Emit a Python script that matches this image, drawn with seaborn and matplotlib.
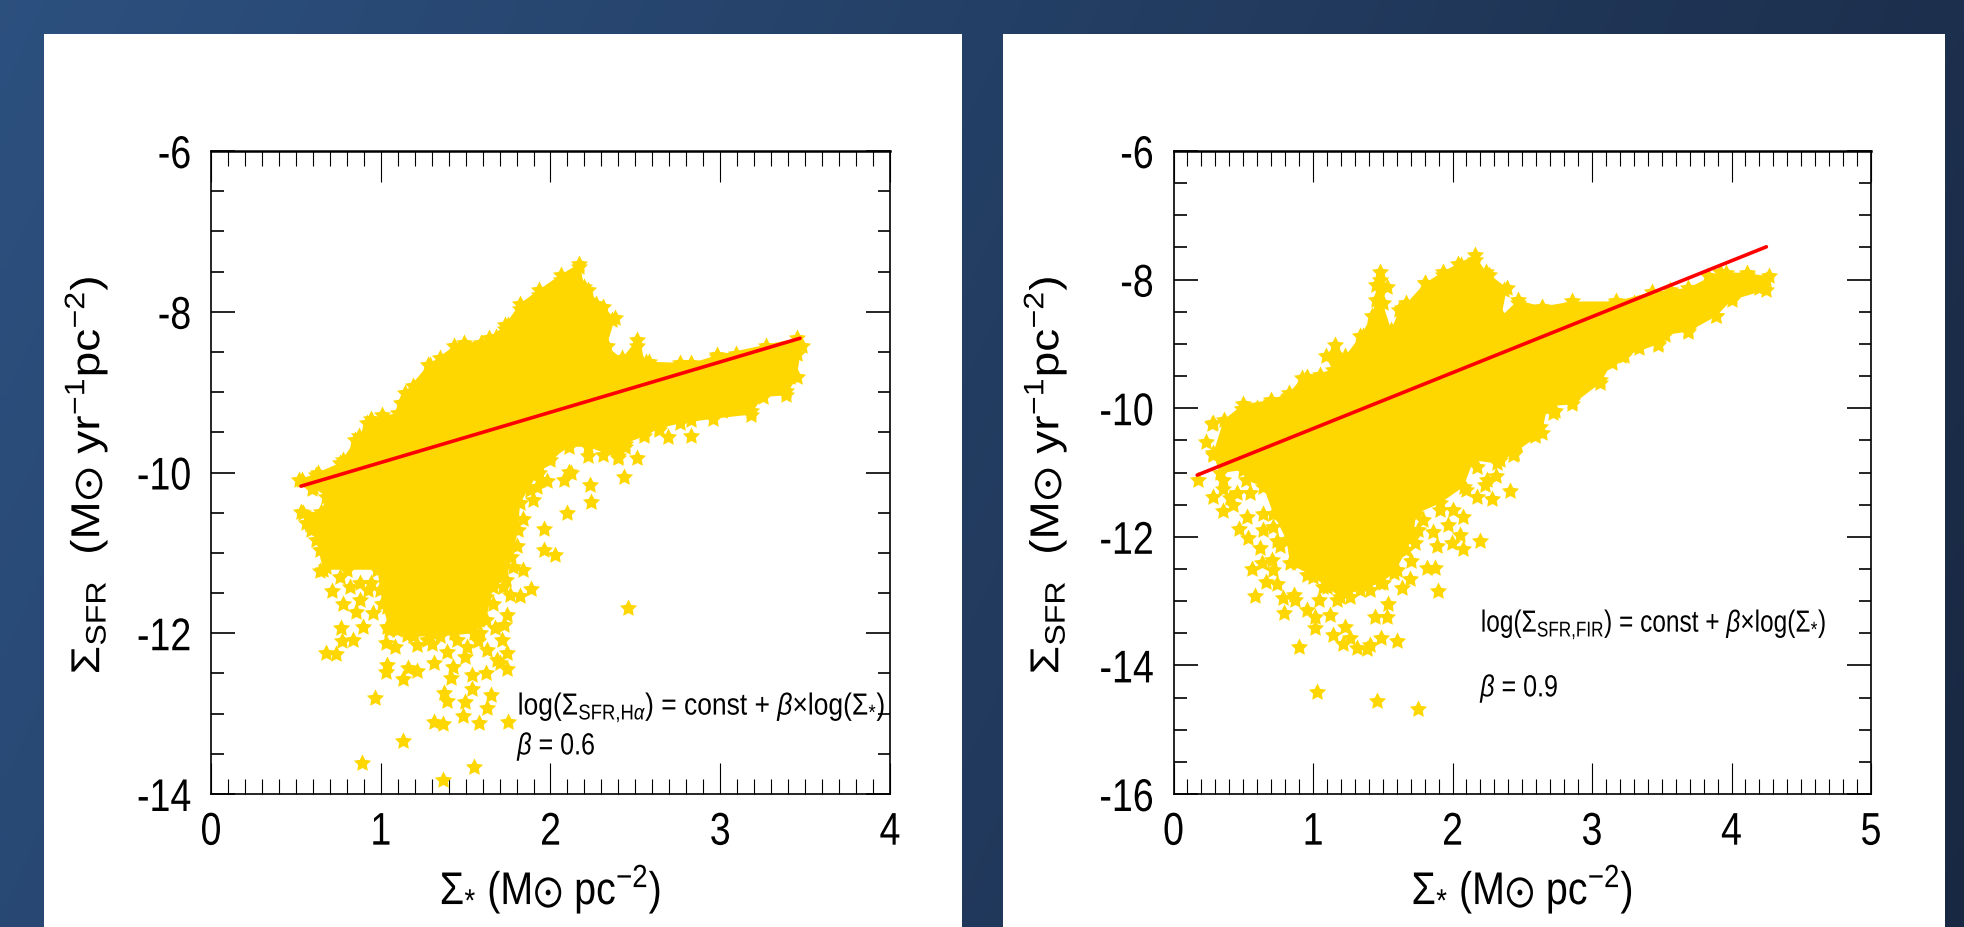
import numpy as np
import matplotlib
matplotlib.use("Agg")
import matplotlib.pyplot as plt
from matplotlib.markers import MarkerStyle
from matplotlib.patches import Rectangle
from matplotlib.path import Path
from matplotlib.patheffects import AbstractPathEffect
from matplotlib.ticker import MultipleLocator
from matplotlib.transforms import Affine2D
import seaborn as sns

# =========================
# 1. Values
# =========================
# outline of the dense star cloud, left panel (H-alpha)
ha_outline_x = [0.52, 0.63, 0.76, 0.85, 0.94, 1.10, 1.14, 1.28, 1.43, 1.64, 1.73, 1.82, 1.93,
                2.06, 2.17, 2.20, 2.31, 2.38, 2.33, 2.42, 2.51, 2.56, 2.83, 2.98, 3.45, 3.48,
                3.45, 3.39, 3.25, 3.18, 2.96, 2.76, 2.64, 2.55, 2.44, 2.40, 2.22, 2.11, 2.00,
                1.93, 1.82, 1.81, 1.77, 1.74, 1.66, 1.62, 1.55, 1.35, 1.19, 1.05, 1.01, 0.98,
                0.80, 0.66, 0.62, 0.56, 0.53, 0.65, 0.68, 0.60]
ha_outline_y = [-10.09, -10.00, -9.88, -9.60, -9.33, -9.26, -9.01, -8.66, -8.43, -8.33, -8.17,
                -7.90, -7.73, -7.54, -7.40, -7.69, -7.94, -8.08, -8.43, -8.58, -8.35, -8.62,
                -8.64, -8.54, -8.33, -8.43, -8.81, -9.04, -9.06, -9.28, -9.33, -9.39, -9.45,
                -9.55, -9.64, -9.82, -9.68, -9.68, -9.84, -10.00, -10.38, -10.72, -11.05,
                -11.34, -11.42, -11.84, -12.00, -12.04, -12.04, -11.96, -11.63, -11.21, -11.21,
                -11.21, -10.84, -10.63, -10.49, -10.49, -10.30, -10.18]
# single stars around the cloud, left panel
ha_stars_x = [0.676, 0.736, 0.770, 0.835, 0.766, 0.894, 0.956, 0.854, 0.776, 0.711, 0.642, 0.878,
              0.927, 0.819, 1.035, 1.031, 1.084, 1.212, 1.300, 1.388, 1.496, 1.575, 1.628, 1.712,
              1.746, 1.683, 1.742, 1.700, 1.620, 1.536, 1.414, 1.424, 1.316, 1.212, 1.159, 1.133,
              1.039, 1.031, 0.966, 1.540, 1.648, 1.628, 1.498, 1.483, 1.579, 1.750, 1.316, 1.365,
              1.373, 1.388, 1.133, 0.890, 1.549, 1.369, 1.742, 1.726, 1.673, 1.761, 1.820, 1.883,
              1.836, 2.026, 1.964, 1.964, 2.100, 2.237, 2.233, 2.119, 2.433, 2.459, 1.895, 1.840,
              2.080, 1.980, 1.920, 0.544, 0.583, 0.593, 0.534, 0.620, 1.094, 1.585, 1.663, 1.722,
              0.996, 1.035, 1.084, 1.153, 1.270, 1.447, 1.506, 2.83, 2.69, 2.51, 2.40, 2.31, 2.11]
ha_stars_y = [-12.24, -12.26, -12.10, -12.08, -11.93, -11.92, -11.75, -11.73, -11.63, -11.48,
              -11.23, -11.59, -11.46, -11.42, -11.92, -12.12, -12.17, -12.15, -12.13, -12.23,
              -12.29, -12.10, -12.21, -12.08, -12.25, -12.33, -12.44, -12.37, -12.49, -12.52,
              -12.56, -12.42, -12.37, -12.47, -12.43, -12.57, -12.40, -12.48, -12.80, -12.69,
              -12.77, -12.93, -12.86, -13.03, -13.12, -13.11, -13.11, -13.13, -12.74, -12.84,
              -13.34, -13.62, -13.66, -13.83, -11.77, -11.90, -11.94, -11.52, -11.54, -11.45,
              -11.21, -11.03, -10.96, -10.70, -10.51, -10.37, -10.16, -10.01, -10.05, -11.68,
              -10.34, -10.58, -10.09, -10.11, -10.18, -10.51, -10.65, -10.20, -10.09, -10.03,
              -11.96, -12.00, -11.63, -11.42, -11.46, -11.67, -11.84, -12.02, -12.08, -12.08,
              -12.17, -9.55, -9.56, -9.82, -9.80, -9.78, -9.99]
# stars that roughen the edge of the cloud, left panel
ha_edge_x = [2.166, 2.13, 2.06, 1.99, 1.93, 1.82, 1.75, 1.49, 1.59, 1.29, 2.51, 2.36, 2.27, 2.22,
             3.41, 3.39, 3.18, 3.01, 2.83, 3.23, 3.45, 2.98, 2.58, 2.76, 3.09, 3.27, 0.78, 0.87,
             0.92, 1.01, 1.12, 1.19, 1.35, 1.68, 1.73, 2.64, 2.55, 2.44, 2.22, 2.00, 1.93, 2.36,
             1.80, 1.78, 1.66, 1.62, 1.58, 1.43, 1.31, 1.19, 1.07, 0.94, 0.88, 0.76, 0.68, 0.64,
             0.59, 1.88, 1.94]
ha_edge_y = [-7.44, -7.57, -7.61, -7.75, -7.79, -7.96, -8.17, -8.39, -8.39, -8.66, -8.43, -8.10,
             -7.90, -7.73, -8.81, -8.99, -9.24, -9.24, -9.35, -9.01, -8.52, -8.56, -8.62, -8.64,
             -8.52, -8.43, -9.84, -9.55, -9.39, -9.28, -9.14, -8.93, -8.58, -8.31, -8.21, -9.47,
             -9.51, -9.68, -9.80, -9.80, -9.93, -9.70, -10.92, -11.17, -11.30, -11.55, -11.84,
             -12.00, -12.00, -12.00, -11.92, -11.38, -11.38, -11.30, -11.17, -10.96, -10.72,
             -10.22, -10.09]
ha_fit_x = [0.53, 3.47]
ha_fit_y = [-10.17, -8.33]

# outline of the dense star cloud, right panel (FIR)
fir_outline_x = [0.36, 0.50, 0.70, 0.83, 0.92, 1.14, 1.09, 1.16, 1.23, 1.34, 1.42, 1.45, 1.45,
                 1.48, 1.53, 1.50, 1.56, 1.62, 1.67, 1.80, 1.93, 2.04, 2.16, 2.24, 2.39, 2.35,
                 2.47, 2.64, 2.86, 3.17, 3.43, 3.69, 3.92, 4.11, 4.27, 4.25, 4.00, 3.89, 3.69,
                 3.52, 3.47, 3.23, 3.14, 3.06, 2.86, 2.68, 2.64, 2.44, 2.32, 2.15, 2.08, 1.91,
                 1.74, 1.72, 1.67, 1.58, 1.48, 1.34, 1.19, 1.10, 1.00, 0.835, 0.81, 0.716, 0.644,
                 0.52, 0.50, 0.33, 0.285]
fir_outline_y = [-10.18, -9.94, -9.87, -9.76, -9.53, -9.40, -9.19, -9.01, -9.19, -8.88, -8.57,
                 -8.32, -8.08, -7.88, -8.11, -8.37, -8.78, -8.47, -8.37, -8.06, -7.88, -7.75,
                 -7.62, -7.88, -8.13, -8.57, -8.32, -8.42, -8.34, -8.34, -8.19, -8.13, -7.88,
                 -7.90, -7.95, -8.16, -8.32, -8.57, -8.81, -8.86, -9.01, -9.19, -9.30, -9.61,
                 -9.94, -9.97, -10.39, -10.70, -10.86, -10.81, -11.22, -11.48, -11.64, -11.95,
                 -12.21, -12.57, -12.72, -12.83, -12.93, -12.78, -12.62, -12.41, -12.05, -11.64,
                 -11.22, -11.12, -10.96, -11.01, -10.70]
# single stars around the cloud, right panel
fir_stars_x = [1.03, 1.46, 1.75, 0.178, 0.286, 0.357, 0.429, 0.405, 0.357, 0.472, 0.536, 0.620,
               0.740, 0.644, 0.524, 0.560, 0.632, 0.704, 0.711, 0.663, 0.740, 0.584, 0.783, 0.864,
               0.871, 0.792, 0.955, 1.014, 1.014, 1.045, 1.122, 1.141, 0.902, 1.230, 1.217, 1.265,
               1.313, 1.385, 1.409, 1.487, 1.604, 1.444, 1.528, 1.540, 1.636, 1.695, 1.600, 1.703,
               1.815, 1.875, 1.898, 1.886, 1.863, 1.994, 2.078, 2.197, 2.054, 1.970, 2.078, 2.173,
               2.286, 2.412, 2.233, 2.312, 2.173, 2.436, 2.592, 2.735, 2.687, 1.755, 1.731, 0.274,
               0.233, 0.281, 0.493, 0.600, 0.697, 0.823]
fir_stars_y = [-14.42, -14.55, -14.68, -11.11, -11.38, -11.60, -11.51, -11.40, -11.25, -11.88,
               -12.02, -12.18, -12.06, -11.89, -11.69, -12.50, -12.41, -12.36, -12.52, -12.70,
               -12.73, -12.92, -12.95, -12.90, -12.99, -13.19, -13.14, -13.24, -13.42, -12.99,
               -13.22, -13.53, -13.72, -13.40, -13.66, -13.58, -13.73, -13.75, -13.68, -13.58,
               -13.62, -13.24, -13.24, -13.04, -12.80, -12.65, -12.52, -12.38, -12.48, -12.48,
               -12.84, -12.14, -11.92, -12.10, -12.19, -12.06, -11.97, -11.82, -11.69, -11.38,
               -11.41, -11.29, -11.19, -11.05, -10.91, -10.73, -10.42, -10.05, -10.00, -11.89,
               -12.10, -10.24, -10.52, -10.73, -10.02, -9.99, -9.91, -9.82]
# stars that roughen the edge of the cloud, right panel
fir_edge_x = [0.28, 0.50, 0.70, 0.83, 0.94, 1.16, 1.36, 1.47, 1.48, 1.64, 1.80, 1.93, 2.06, 2.16,
              2.26, 2.37, 2.47, 2.86, 3.17, 3.30, 3.56, 3.83, 3.96, 4.11, 4.25, 4.20, 4.00, 3.89,
              3.69, 3.47, 3.34, 3.21, 3.06, 2.86, 2.72, 2.59, 2.44, 2.64, 0.96, 1.05, 0.357, 0.453,
              0.548, 0.644, 0.716, 0.763, 0.883, 0.955, 1.074, 1.17, 1.265, 1.409, 1.504, 1.576,
              1.624, 1.719, 1.791, 1.91, 2.006, 2.10, 2.245, 2.34, 2.46, 2.63]
fir_edge_y = [-10.23, -10.02, -9.92, -9.81, -9.56, -9.22, -8.88, -8.37, -8.00, -8.44, -8.06, -7.93,
              -7.77, -7.70, -7.93, -8.16, -8.37, -8.39, -8.37, -8.37, -8.16, -7.95, -7.90, -7.93,
              -8.00, -8.13, -8.26, -8.57, -8.78, -8.99, -9.06, -9.19, -9.56, -9.89, -10.07, -10.43,
              -10.72, -8.44, -9.51, -9.48, -11.12, -11.32, -11.32, -11.64, -11.84, -12.15, -12.41,
              -12.59, -12.78, -12.98, -12.93, -12.83, -12.72, -12.36, -12.15, -12.00, -11.74,
              -11.58, -11.58, -11.27, -11.12, -10.81, -10.57, -10.29]
fir_fit_x = [0.17, 4.25]
fir_fit_y = [-11.04, -7.49]

ha_xticks = [0, 1, 2, 3, 4]
ha_yticks = [-14, -12, -10, -8, -6]
ha_ylabels = ["-14", "-12", "-10", "-8", "-6"]
fir_xticks = [0, 1, 2, 3, 4, 5]
fir_yticks = [-16, -14, -12, -10, -8, -6]
fir_ylabels = ["-16", "-14", "-12", "-10", "-8", "-6"]

# =========================
# 2. Figure and background
# =========================
W, H = 1965, 927
GOLD = "#FFD700"
STAR = MarkerStyle(Path.unit_regular_star(5, innerCircle=0.5))

sns.set_theme(style="white")
plt.rcParams["font.family"] = ["Liberation Sans", "DejaVu Sans"]
plt.rcParams["mathtext.fontset"] = "custom"
plt.rcParams["mathtext.rm"] = "Liberation Sans"
plt.rcParams["mathtext.it"] = "Liberation Sans:italic"
plt.rcParams["mathtext.bf"] = "Liberation Sans:bold"
plt.rcParams["mathtext.fallback"] = "stix"


class Squeeze(AbstractPathEffect):
    # the reference is a stretched slide, so its glyphs are narrower than the font's
    def __init__(self, sx=1.0, sy=1.0, anchor="center"):
        super().__init__()
        self.sx, self.sy, self.anchor = sx, sy, anchor

    def draw_path(self, renderer, gc, tpath, affine, rgbFace=None):
        box = tpath.get_extents()
        ax_ = {"left": box.x0, "center": (box.x0 + box.x1) / 2, "right": box.x1}[self.anchor]
        ay_ = (box.y0 + box.y1) / 2
        squeeze = Affine2D().translate(-ax_, -ay_).scale(self.sx, self.sy).translate(ax_, ay_)
        renderer.draw_path(gc, tpath, squeeze + affine, rgbFace)


fig = plt.figure(figsize=(W / 100, H / 100), dpi=100)


def px_axes(left, top, right, bottom):
    return fig.add_axes([left / W, 1 - bottom / H, (right - left) / W, (bottom - top) / H])


bg = fig.add_axes([0, 0, 1, 1])
gx, gy = np.meshgrid(np.linspace(0, 1, 200), np.linspace(0, 1, 100))
t = (0.82 * gx + 0.18 * gy)[..., None]
bg.imshow(np.array([0.173, 0.314, 0.498]) * (1 - t) + np.array([0.098, 0.157, 0.259]) * t,
          aspect="auto", interpolation="bilinear")
bg.axis("off")

# white panels behind the two plots
for x0, x1 in [(44, 962), (1003, 1945)]:
    bg.add_patch(Rectangle((x0 / W, 0), (x1 - x0) / W, 1 - 34 / H, transform=fig.transFigure,
                           facecolor="white", edgecolor="none", zorder=2))


# =========================
# 3. The two panels
# =========================
def draw_panel(ax, out_x, out_y, stars_x, stars_y, fit_x, fit_y, xticks, yticks, ylabels,
               tx, ty1, ty2, eq, beta, eq_sx):
    ax.patch.set_alpha(0)
    ax.fill(out_x, out_y, color=GOLD, linewidth=0, zorder=2)
    sns.scatterplot(x=out_x + stars_x, y=out_y + stars_y, ax=ax, marker=STAR, s=170,
                    color=GOLD, linewidth=0, zorder=2)
    sns.lineplot(x=fit_x, y=fit_y, ax=ax, color="red", linewidth=2.6, zorder=3)

    ax.set_xlim(xticks[0], xticks[-1])
    ax.set_ylim(yticks[0], yticks[-1])
    ax.set_xticks(xticks)
    ax.set_yticks(yticks)
    ax.set_yticklabels(ylabels)
    ax.xaxis.set_minor_locator(MultipleLocator(0.1))
    ax.yaxis.set_minor_locator(MultipleLocator(0.5))
    ax.tick_params(axis="x", which="major", direction="in", top=True, bottom=True, length=22,
                   width=0.8, labelsize=33, pad=12, color="black", labelcolor="black")
    ax.tick_params(axis="x", which="minor", direction="in", top=True, bottom=True, length=11,
                   width=0.8, color="black")
    ax.tick_params(axis="y", which="major", direction="in", left=True, right=True, length=17,
                   width=1.2, labelsize=33, pad=14, color="black", labelcolor="black")
    ax.tick_params(axis="y", which="minor", direction="in", left=True, right=True, length=9,
                   width=1.2, color="black")
    for lab in ax.get_xticklabels():
        lab.set_path_effects([Squeeze(0.82)])
    for lab in ax.get_yticklabels():
        lab.set_path_effects([Squeeze(0.82, anchor="right")])
    for side, spine in ax.spines.items():
        spine.set_color("black")
        spine.set_linewidth(1.8 if side == "top" else 1.2)

    ax.set_xlabel(r"$\Sigma_{*}$ (M$\odot$ pc$^{-2}$)", fontsize=33, color="black",
                  path_effects=[Squeeze(0.86)])
    ax.xaxis.set_label_coords(0.5, -0.148, transform=ax.transAxes)
    ax.xaxis.label.set_verticalalignment("center")
    ax.set_ylabel(r"$\Sigma_{\mathrm{SFR}}$  (M$\odot$ yr$^{-1}$pc$^{-2}$)", fontsize=33,
                  color="black", path_effects=[Squeeze(1.0, 0.88)])
    ax.yaxis.set_label_coords(-0.184, 0.496, transform=ax.transAxes)
    ax.yaxis.label.set_verticalalignment("center")

    ax.text(tx, ty1, eq, fontsize=22, color="black", va="center", zorder=4,
            path_effects=[Squeeze(eq_sx, anchor="left")])
    ax.text(tx, ty2, r"$\beta$ = " + beta, fontsize=22, color="black", va="center", zorder=4,
            path_effects=[Squeeze(0.82, anchor="left")])


ax1 = px_axes(211, 151, 890, 794)
draw_panel(ax1, ha_outline_x, ha_outline_y, ha_stars_x + ha_edge_x, ha_stars_y + ha_edge_y,
           ha_fit_x, ha_fit_y, ha_xticks, ha_yticks, ha_ylabels, 1.805, -12.92, -13.41,
           r"log($\Sigma_{\mathrm{SFR{,}H}\alpha}$) = const + $\beta{\times}$log($\Sigma_{*}$)",
           "0.6", 0.865)

ax2 = px_axes(1173.5, 151, 1871, 794)
draw_panel(ax2, fir_outline_x, fir_outline_y, fir_stars_x + fir_edge_x, fir_stars_y + fir_edge_y,
           fir_fit_x, fir_fit_y, fir_xticks, fir_yticks, fir_ylabels, 2.2, -13.36, -14.36,
           r"log($\Sigma_{\mathrm{SFR{,}FIR}}$) = const + $\beta{\times}$log($\Sigma_{*}$)",
           "0.9", 0.80)

fig.savefig("out.png", dpi=100)
